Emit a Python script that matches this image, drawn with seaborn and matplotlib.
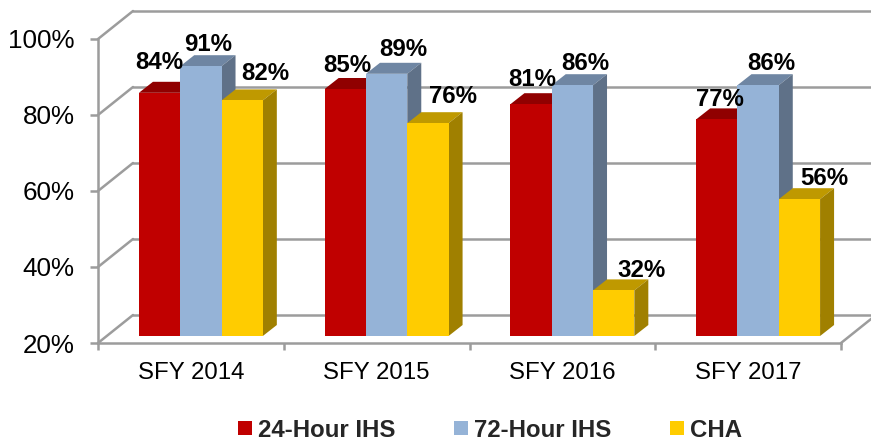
"""
3D look column chart of follow-up rates by state fiscal year.
Front faces are seaborn bars, the depth faces are added from their geometry.
"""

import matplotlib
matplotlib.use("Agg")
import matplotlib.pyplot as plt
import pandas as pd
import seaborn as sns
from matplotlib.patches import Patch, Polygon

# data
years = ["SFY 2014", "SFY 2015", "SFY 2016", "SFY 2017"]
ihs_24 = [84, 85, 81, 77]
ihs_72 = [91, 89, 86, 86]
cha = [82, 76, 32, 56]
series_names = ["24-Hour IHS", "72-Hour IHS", "CHA"]
y_ticks = [20, 40, 60, 80, 100]

# colours: front, top, side
front_cols = ["#C00000", "#95B3D7", "#FFCC00"]
top_cols = ["#900000", "#6F86A3", "#BF9900"]
side_cols = ["#900000", "#5F7188", "#A08000"]
GRID = "#9C9C9C"
LW = 1.8

# label nudges in pixels, one row per series
label_dx = [[0, 2, 1, 3], [7, 17, 13, 13], [23, 25, 28, 25]]
label_dy = [[30, 23, 25, 20], [22, 24, 22, 22], [27, 27, 20, 21]]

sns.set_theme(style="white")
plt.rcParams['font.family'] = ['Liberation Sans', 'DejaVu Sans']

df = pd.DataFrame({
    "year": years * 3,
    "series": [s for s in series_names for _ in years],
    "value": ihs_24 + ihs_72 + cha,
})

fig = plt.figure(figsize=(8.71, 4.40), dpi=100)
ax = fig.add_axes([98 / 871, 97 / 440, 743 / 871, 304 / 440])
sns.barplot(data=df, x="year", y="value", hue="series", order=years,
            hue_order=series_names, palette=front_cols, width=0.667, gap=0,
            saturation=1, legend=False, ax=ax)

ax.set_xlim(-0.5, 3.5)
ax.set_ylim(20, 100)

# pixel sizes to data units
px_x = 4 / 743
px_y = 80 / 304
wall_dx, wall_dy = 35 * px_x, 28 * px_y
bar_dx, bar_dy = 14 * px_x, 11 * px_y
shift_x, shift_y = 10 * px_x, 7 * px_y

# back wall and floor
for y in y_ticks:
    ax.plot([-0.5, -0.5 + wall_dx], [y, y + wall_dy], color=GRID, lw=LW,
            clip_on=False, zorder=1, solid_capstyle='round')
    ax.plot([-0.5 + wall_dx, 3.5 + wall_dx], [y + wall_dy, y + wall_dy],
            color=GRID, lw=LW, clip_on=False, zorder=1)
ax.plot([3.5, 3.5 + wall_dx], [20, 20 + wall_dy], color=GRID, lw=LW,
        clip_on=False, zorder=1)

# move the bars into the depth and add top and side faces
for i, container in enumerate(ax.containers):
    for j, bar in enumerate(container):
        value = bar.get_height()
        x0 = bar.get_x() + shift_x
        x1 = x0 + bar.get_width()
        y0 = 20 + shift_y
        y1 = value + shift_y
        bar.set_x(x0)
        bar.set_y(y0)
        bar.set_height(value - 20)
        bar.set_linewidth(0)
        bar.set_zorder(3 + i + 0.5)
        ax.add_patch(Polygon([(x0, y1), (x1, y1), (x1 + bar_dx, y1 + bar_dy),
                              (x0 + bar_dx, y1 + bar_dy)], closed=True,
                             fc=top_cols[i], ec='none', zorder=3 + i,
                             clip_on=False))
        ax.add_patch(Polygon([(x1, y0), (x1, y1), (x1 + bar_dx, y1 + bar_dy),
                              (x1 + bar_dx, y0 + bar_dy)], closed=True,
                             fc=side_cols[i], ec='none', zorder=3 + i,
                             clip_on=False))
        ax.annotate(f"{value:.0f}%", xy=((x0 + x1) / 2, y1),
                    xytext=(label_dx[i][j], label_dy[i][j]),
                    textcoords='offset pixels', ha='center', va='center',
                    fontsize=17.3, fontweight='bold', color='black',
                    zorder=10, annotation_clip=False)

# axes
ax.set_xlabel("")
ax.set_ylabel("")
sns.despine(ax=ax, top=True, right=True)
for side in ['left', 'bottom']:
    ax.spines[side].set_color(GRID)
    ax.spines[side].set_linewidth(LW)
    ax.spines[side].set_zorder(2)
ax.set_yticks(y_ticks)
ax.set_yticklabels([f"{y}%" for y in y_ticks])
ax.tick_params(axis='y', length=6, width=LW, color=GRID, labelsize=18.7,
               pad=11, labelcolor='black', left=True)
ax.set_xticks(range(len(years)))
ax.set_xticklabels(years)
ax.set_xticks([-0.5, 0.5, 1.5, 2.5, 3.5], minor=True)
ax.tick_params(axis='x', which='major', length=0, labelsize=17.3, pad=14,
               labelcolor='black')
ax.tick_params(axis='x', which='minor', length=5, width=LW, color=GRID,
               bottom=True)

handles = [Patch(fc=c, ec='none') for c in front_cols]
leg = fig.legend(handles, series_names, loc='center',
                 bbox_to_anchor=(490 / 871, 10 / 440), ncol=3, frameon=False,
                 handlelength=0.58, handleheight=0.58, handletextpad=0.22,
                 columnspacing=2.47, borderpad=0, borderaxespad=0,
                 prop={'size': 17.3, 'weight': 'bold'})

fig.savefig("out.png", dpi=100)
